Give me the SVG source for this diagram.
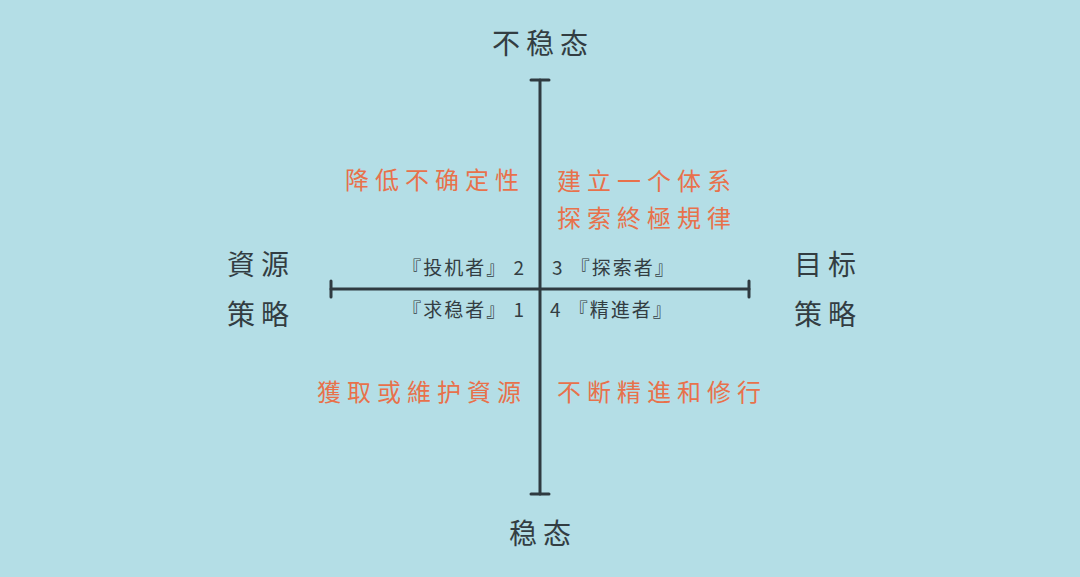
<svg xmlns="http://www.w3.org/2000/svg" width="1080" height="577" viewBox="0 0 1080 577">
<style>
.t{font-family:"Noto Sans CJK SC","Noto Sans CJK TC",sans-serif;fill:#333d42;}
.big{font-size:28px;letter-spacing:6px;}
.or{font-family:"Noto Sans CJK SC","Noto Sans CJK TC",sans-serif;fill:#e8714b;font-size:24px;letter-spacing:6px;}
.sm{font-family:"Noto Sans CJK SC","Noto Sans CJK TC",sans-serif;fill:#333d42;font-size:19px;letter-spacing:2px;}
.ax{stroke:#2f3a40;stroke-width:3;stroke-linecap:round;fill:none;}
</style>
<rect width="1080" height="577" fill="#b4dee6"/>
<g id="connectors">
<line class="ax" x1="540" y1="80" x2="540" y2="494"/>
<line class="ax" x1="531" y1="80" x2="549" y2="80"/>
<line class="ax" x1="531" y1="494" x2="549" y2="494"/>
<line class="ax" x1="331" y1="289" x2="749" y2="289"/>
<line class="ax" x1="331" y1="281" x2="331" y2="297"/>
<line class="ax" x1="749" y1="281" x2="749" y2="297"/>
</g>
<g id="top"><text class="t big" x="543" y="54" text-anchor="middle">不稳态</text></g>
<g id="bottom"><text class="t big" x="543" y="544" text-anchor="middle">稳态</text></g>
<g id="left"><text class="t big" x="227" y="275">資源</text><text class="t big" x="227" y="325">策略</text></g>
<g id="right"><text class="t big" x="794" y="275">目标</text><text class="t big" x="794" y="325">策略</text></g>
<g id="q2"><text class="or" x="345" y="189">降低不确定性</text></g>
<g id="q3"><text class="or" x="557" y="190">建立一个体系</text><text class="or" x="557" y="227">探索終極規律</text></g>
<g id="q1"><text class="or" x="317" y="401">獲取或維护資源</text></g>
<g id="q4"><text class="or" x="557" y="401">不断精進和修行</text></g>
<g id="n2"><text class="sm" x="526" y="275" text-anchor="end">『投机者』 2</text></g>
<g id="n3"><text class="sm" x="552" y="275">3 『探索者』</text></g>
<g id="n1"><text class="sm" x="526" y="317" text-anchor="end">『求稳者』 1</text></g>
<g id="n4"><text class="sm" x="550" y="317">4 『精進者』</text></g>
</svg>
